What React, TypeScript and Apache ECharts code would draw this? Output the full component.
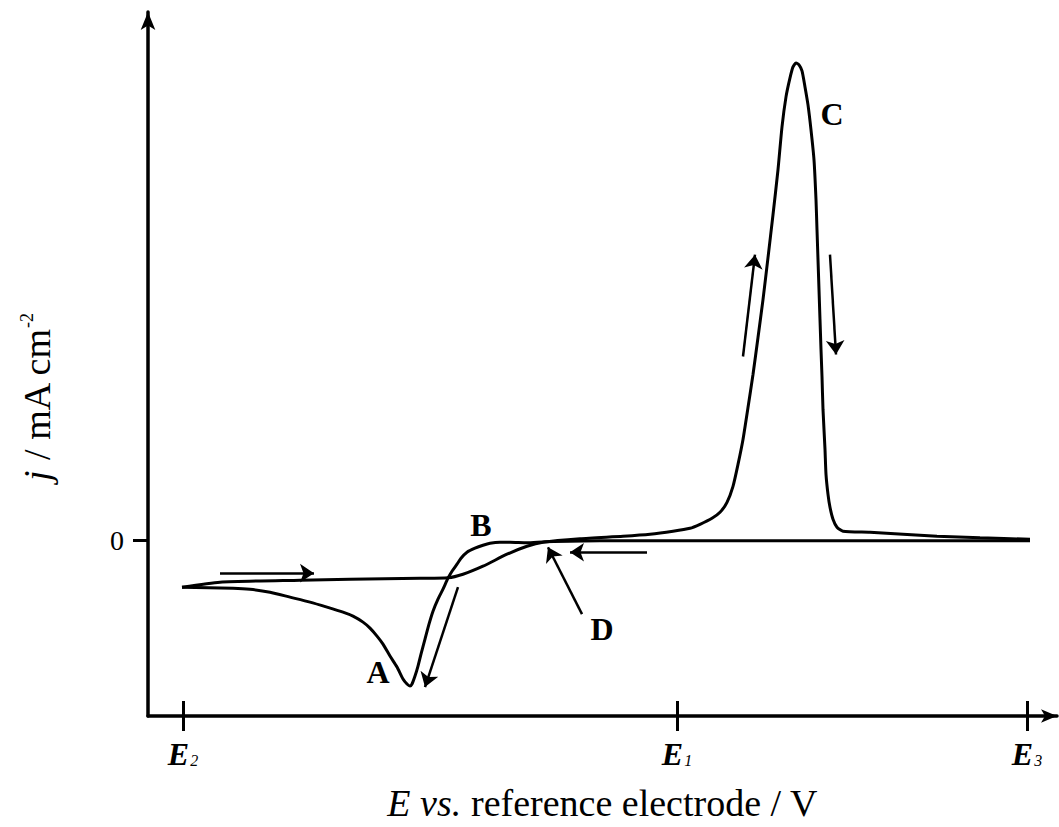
import React, { useEffect, useRef } from "react";
import * as echarts from "echarts";

// x: potential (arbitrary units, E2 = 0), y: current density (arbitrary units)
const E_TICKS = [0, 494, 844];
const E_TICK_SUBS = ["2", "1", "3"];
const Y_TICKS = [0];

const forwardScan: number[][] = [
  [-1, -4.7], [37, -4.2], [117, -4.0], [167, -3.9], [237, -3.8], [265, -3.75],
  [280, -3.4], [300, -2.6], [324, -1.4], [344, -0.6], [360, -0.2], [397, 0.15],
  [440, 0.4], [467, 0.6], [490, 0.9], [507, 1.2], [517, 1.6], [529, 2.2],
  [537, 2.8], [544, 3.8], [550, 5.4], [555, 7.6], [560, 10.1], [565, 13.3],
  [570, 16.6], [575, 20.3], [580, 24.1], [585, 28.3], [590, 32.6], [595, 37.1],
  [599, 41.4], [603, 44.4], [607, 46.3], [610, 47.4], [613, 47.8], [616, 47.6],
  [619, 47.0], [622, 45.4], [625, 43.6], [628, 41.1], [631, 38.1], [633, 34.1],
  [634, 31.1], [636, 25.1], [638, 19.1], [639, 16.4], [640, 13.1], [642, 9.1],
  [643, 6.6], [645, 4.6], [647, 3.3], [650, 2.1], [654, 1.3], [660, 0.9],
  [687, 0.8], [720, 0.6], [754, 0.4], [797, 0.25], [847, 0.1],
];

const reverseScan: number[][] = [
  [847, -0.05], [617, -0.05], [417, -0.05], [362, -0.15], [344, -0.25],
  [327, -0.2], [317, -0.2], [307, -0.3], [300, -0.5], [292, -0.8], [284, -1.2],
  [278, -1.8], [274, -2.4], [269, -3.1], [265, -3.8], [260, -4.9], [255, -5.9],
  [250, -7.1], [246, -8.4], [242, -9.9], [238, -11.4], [235, -12.6], [232, -13.6],
  [229, -14.4], [227, -14.6], [224, -14.4], [220, -13.9], [214, -12.7],
  [207, -11.6], [200, -10.4], [194, -9.6], [187, -8.8], [180, -8.2], [170, -7.6],
  [160, -7.2], [144, -6.7], [127, -6.2], [107, -5.7], [87, -5.2], [67, -4.9],
  [50, -4.8], [-1, -4.7],
];

const pointLabels = ["A", "B", "C", "D"];
const pointLabelPos: number[][] = [[195, -13.2], [298, 1.5], [649, 42.7], [419, -8.9]];

// scan-direction arrows: [start, end]
const scanArrows: number[][][] = [
  [[37, -3.3], [131, -3.3]],
  [[464, -1.2], [387, -1.2]],
  [[399, -7.4], [365, -0.7]],
  [[275, -4.7], [242, -14.7]],
  [[560, 18.4], [572, 28.6]],
  [[647, 28.6], [653, 18.6]],
];

const X_MIN = -35;
const X_MAX = 874;
const Y_MIN = -17.6;
const Y_MAX = 52.9;

const SERIF = "Liberation Serif";

export default function App() {
  const ref = useRef<HTMLDivElement>(null);
  useEffect(() => {
    document.body.style.margin = "0";
    if (!ref.current) return;
    const chart = echarts.init(ref.current, undefined, { renderer: "svg" });
    const eLabel = (v: number) => {
      const i = E_TICKS.findIndex((t) => Math.abs(t - v) < 0.5);
      return i < 0 ? "" : `{e|E}{s|${E_TICK_SUBS[i]}}`;
    };
    chart.setOption({
      animation: false,
      backgroundColor: "#fff",
      grid: { left: 148, right: 2, top: 12, bottom: 110, containLabel: false },
      xAxis: [
        {
          type: "value",
          min: X_MIN,
          max: X_MAX,
          position: "bottom",
          name: "{i|E} {i|vs.} reference electrode / V",
          nameLocation: "middle",
          nameGap: 68,
          nameTextStyle: {
            fontFamily: SERIF,
            fontSize: 38,
            color: "#000",
            rich: {
              i: { fontFamily: SERIF, fontSize: 38, fontStyle: "italic", color: "#000" },
            },
          },
          axisLine: {
            show: true,
            onZero: false,
            symbol: ["none", "arrow"],
            symbolSize: [10, 16],
            lineStyle: { color: "#000", width: 3.5 },
          },
          axisTick: {
            show: true,
            customValues: E_TICKS,
            length: 15,
            inside: false,
            lineStyle: { color: "#000", width: 3 },
          },
          axisLabel: {
            show: true,
            customValues: E_TICKS,
            margin: 22,
            formatter: eLabel,
            rich: {
              e: {
                fontFamily: SERIF,
                fontSize: 32,
                fontStyle: "italic",
                fontWeight: "bold",
                color: "#000",
                lineHeight: 30,
                verticalAlign: "top",
              },
              s: {
                fontFamily: SERIF,
                fontSize: 16,
                fontStyle: "italic",
                color: "#000",
                lineHeight: 16,
                padding: [20, 0, 0, 1],
                verticalAlign: "bottom",
              },
            },
          },
          splitLine: { show: false },
        },
        {
          type: "value",
          min: X_MIN,
          max: X_MAX,
          position: "bottom",
          axisLine: { show: false, onZero: false },
          axisTick: {
            show: true,
            customValues: E_TICKS,
            length: 15,
            inside: true,
            lineStyle: { color: "#000", width: 3 },
          },
          axisLabel: { show: false },
          splitLine: { show: false },
        },
      ],
      yAxis: {
        type: "value",
        min: Y_MIN,
        max: Y_MAX,
        axisLine: {
          show: true,
          onZero: false,
          symbol: ["none", "arrow"],
          symbolSize: [11, 18],
          lineStyle: { color: "#000", width: 3.5 },
        },
        axisTick: {
          show: true,
          customValues: Y_TICKS,
          length: 15,
          lineStyle: { color: "#000", width: 3 },
        },
        axisLabel: {
          show: true,
          customValues: Y_TICKS,
          margin: 24,
          fontFamily: SERIF,
          fontSize: 28,
          color: "#000",
        },
        splitLine: { show: false },
      },
      graphic: [
        {
          type: "text",
          x: 37,
          y: 397,
          rotation: Math.PI / 2,
          style: {
            text: "{i|j} / mA cm{s|-2}",
            align: "center",
            verticalAlign: "middle",
            fontFamily: SERIF,
            fontSize: 38,
            fill: "#000",
            rich: {
              i: { fontFamily: SERIF, fontSize: 38, fontStyle: "italic", fill: "#000" },
              s: { fontFamily: SERIF, fontSize: 18, fill: "#000", verticalAlign: "top", padding: [0, 0, 16, 0] },
            },
          },
        },
      ],
      series: [
        {
          type: "line",
          name: "forward scan",
          data: forwardScan,
          showSymbol: false,
          smooth: 0.2,
          lineStyle: { color: "#000", width: 3 },
          z: 3,
        },
        {
          type: "line",
          name: "reverse scan",
          data: reverseScan,
          showSymbol: false,
          smooth: 0.2,
          lineStyle: { color: "#000", width: 3 },
          z: 3,
        },
        {
          type: "lines",
          coordinateSystem: "cartesian2d",
          data: scanArrows.map((c) => ({ coords: c })),
          symbol: ["none", "arrow"],
          symbolSize: [9, 14],
          lineStyle: { color: "#000", width: 2.5, opacity: 1 },
          z: 4,
        },
        {
          type: "scatter",
          data: pointLabels.map((n, i) => ({ name: n, value: pointLabelPos[i] })),
          symbolSize: 0,
          itemStyle: { color: "#000", opacity: 1 },
          label: {
            show: true,
            position: "inside",
            formatter: "{b}",
            fontFamily: SERIF,
            fontSize: 32,
            fontWeight: "bold",
            color: "#000",
            opacity: 1,
          },
          z: 5,
        },
      ],
    });
    return () => chart.dispose();
  }, []);
  return <div ref={ref} style={{ width: 1059, height: 827 }} />;
}
